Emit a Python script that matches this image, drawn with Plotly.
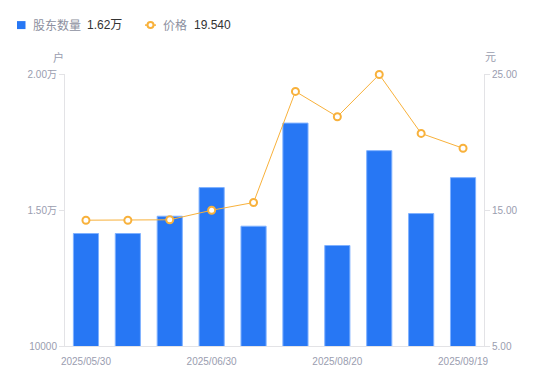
import plotly.graph_objects as go

dates = ["2025/05/30", "2025/06/10", "2025/06/20", "2025/06/30", "2025/07/10",
         "2025/07/31", "2025/08/20", "2025/08/29", "2025/09/10", "2025/09/19"]
holders = [14136, 14136, 14771, 15824, 14404, 18195, 13695, 17182, 14870, 16190]
prices = [14.25, 14.25, 14.28, 14.98, 15.55, 23.72, 21.86, 24.96, 20.63, 19.54]

x_tickvals = ["2025/05/30", "2025/06/30", "2025/08/20", "2025/09/19"]
y1_tickvals = [10000, 15000, 20000]
y1_ticktext = ["10000", "1.50万", "2.00万"]
y2_tickvals = [5, 15, 25]
y2_ticktext = ["5.00", "15.00", "25.00"]

BLUE = "#2777f4"
ORANGE = "#f8b13b"
GREY = "#9a9daf"
AXIS = "#e3e3e6"
FONT = "Liberation Sans, Noto Sans CJK SC, sans-serif"

fig = go.Figure()
fig.add_trace(go.Bar(
    x=dates, y=holders, name="股东数量",
    marker=dict(color=BLUE, line=dict(color="#7fb1ff", width=1)),
    yaxis="y", hoverinfo="skip",
))
fig.add_trace(go.Scatter(
    x=dates, y=prices, name="价格", mode="lines+markers",
    line=dict(color=ORANGE, width=1),
    marker=dict(symbol="circle", size=7, color="white",
                line=dict(color=ORANGE, width=2)),
    yaxis="y2", hoverinfo="skip", cliponaxis=False,
))

W, H = 550, 381
L, R, T, B = 65, 66, 73.5, 35
pw, ph = W - L - R, H - T - B

def px(x):
    return (x - L) / pw

def py(y):
    return (H - B - y) / ph

fig.update_layout(
    width=W, height=H,
    margin=dict(l=L, r=R, t=T, b=B, pad=0),
    paper_bgcolor="white", plot_bgcolor="white",
    showlegend=False,
    bargap=0.4,
    font=dict(family=FONT, size=10, color=GREY),
    xaxis=dict(
        type="category", tickmode="array", tickvals=x_tickvals, ticktext=x_tickvals,
        range=[-0.5, len(dates) - 0.5],
        showline=True, linecolor=AXIS, linewidth=1,
        ticks="outside", ticklen=6, tickcolor="rgba(0,0,0,0)", showgrid=False,
        tickfont=dict(size=10, color=GREY), zeroline=False,
    ),
    yaxis=dict(
        range=[10000, 20000], tickmode="array", tickvals=y1_tickvals, ticktext=y1_ticktext,
        showline=True, linecolor=AXIS, linewidth=1, ticks="outside", ticklen=5,
        tickcolor=AXIS, showgrid=False, zeroline=False,
        tickfont=dict(size=10, color=GREY),
    ),
    yaxis2=dict(
        range=[5, 25], overlaying="y", side="right", tickmode="array",
        tickvals=y2_tickvals, ticktext=y2_ticktext,
        showline=True, linecolor=AXIS, linewidth=1, ticks="outside", ticklen=5,
        tickcolor=AXIS, showgrid=False, zeroline=False,
        tickfont=dict(size=10, color=GREY),
    ),
)

# axis unit titles
fig.add_annotation(text="户", xref="paper", yref="paper", x=px(58), y=py(57),
                   showarrow=False, font=dict(size=11, color=GREY),
                   xanchor="center", yanchor="middle")
fig.add_annotation(text="元", xref="paper", yref="paper", x=px(490), y=py(56),
                   showarrow=False, font=dict(size=11, color=GREY),
                   xanchor="center", yanchor="middle")

# manual legend
ly = 24.5
fig.add_shape(type="rect", xref="paper", yref="paper",
              x0=px(17), x1=px(25.5), y0=py(20.5), y1=py(28.5),
              fillcolor=BLUE, line=dict(width=0))
fig.add_annotation(text="股东数量", xref="paper", yref="paper", x=px(31), y=py(ly),
                   showarrow=False, xanchor="left", yanchor="middle",
                   font=dict(size=12, color="#8d90a0"))
fig.add_annotation(text="1.62万", xref="paper", yref="paper", x=px(85), y=py(ly),
                   showarrow=False, xanchor="left", yanchor="middle",
                   font=dict(size=12, color="#333333"))
fig.add_shape(type="line", xref="paper", yref="paper",
              x0=px(145), x1=px(156), y0=py(ly), y1=py(ly),
              line=dict(color=ORANGE, width=1.5))
fig.add_shape(type="circle", xref="paper", yref="paper",
              x0=px(147.5), x1=px(153.5), y0=py(ly - 3), y1=py(ly + 3),
              fillcolor="white", line=dict(color=ORANGE, width=2))
fig.add_annotation(text="价格", xref="paper", yref="paper", x=px(161), y=py(ly),
                   showarrow=False, xanchor="left", yanchor="middle",
                   font=dict(size=12, color="#8d90a0"))
fig.add_annotation(text="19.540", xref="paper", yref="paper", x=px(192), y=py(ly),
                   showarrow=False, xanchor="left", yanchor="middle",
                   font=dict(size=12, color="#333333"))

fig.write_html(
    "out.html",
    config={"displayModeBar": False},
    post_script="document.body.style.margin='0';document.body.style.overflow='hidden';",
)
